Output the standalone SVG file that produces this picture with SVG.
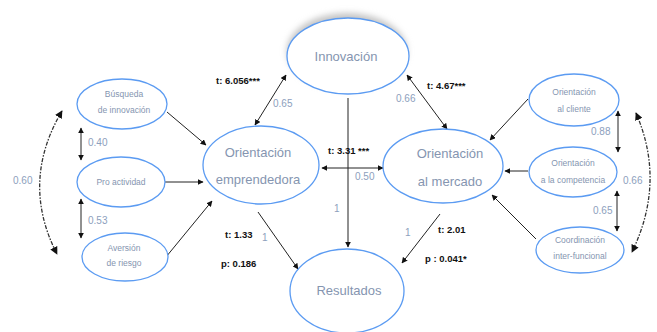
<svg xmlns="http://www.w3.org/2000/svg" width="657" height="332" viewBox="0 0 657 332">
<defs>
<marker id="ah" viewBox="0 0 10 10" refX="9" refY="5" markerWidth="6" markerHeight="6" orient="auto-start-reverse"><path d="M0,0 L10,5 L0,10 z" fill="#111"/></marker>
<filter id="sh" x="-20%" y="-30%" width="140%" height="160%"><feGaussianBlur stdDeviation="3"/></filter>
</defs>
<style>
.n{fill:#fff;stroke:#5b9bf2;stroke-width:1.3}
.big{font-family:"Liberation Sans",Arial,sans-serif;font-size:13px;fill:#8595b0;text-anchor:middle}
.sm{font-family:"Liberation Sans",Arial,sans-serif;font-size:8.5px;fill:#8595b0;text-anchor:middle}
.num{font-family:"Liberation Sans",Arial,sans-serif;font-size:10px;fill:#8da0bd}
.t{font-family:"Liberation Sans",Arial,sans-serif;font-size:9.5px;font-weight:bold;fill:#111}
.c{stroke:#222;stroke-width:1;fill:none}
.cd{stroke:#333;stroke-width:1.3;fill:none;stroke-dasharray:4 1.5 1.5 1.5}
</style>
<rect width="657" height="332" fill="#fff"/>
<g id="connectors">
<line class="c" x1="167" y1="112" x2="206" y2="145" marker-end="url(#ah)"/>
<line class="c" x1="165" y1="182" x2="203" y2="182" marker-end="url(#ah)"/>
<line class="c" x1="166" y1="257" x2="212" y2="201" marker-end="url(#ah)"/>
<line class="c" x1="528" y1="99" x2="490" y2="140" marker-end="url(#ah)"/>
<line class="c" x1="528" y1="171" x2="505" y2="171" marker-end="url(#ah)"/>
<line class="c" x1="536" y1="239" x2="492" y2="195" marker-end="url(#ah)"/>
<line class="c" x1="255" y1="125" x2="286" y2="75" marker-start="url(#ah)" marker-end="url(#ah)"/>
<line class="c" x1="407" y1="75" x2="447" y2="129" marker-start="url(#ah)" marker-end="url(#ah)"/>
<line class="c" x1="348" y1="98" x2="348" y2="247" marker-end="url(#ah)"/>
<line class="c" x1="322" y1="168" x2="383" y2="168" marker-start="url(#ah)" marker-end="url(#ah)"/>
<line class="c" x1="258" y1="212" x2="298" y2="269" marker-end="url(#ah)"/>
<line class="c" x1="440" y1="214" x2="402" y2="263" marker-end="url(#ah)"/>
<line class="c" x1="81" y1="128" x2="81" y2="160" marker-start="url(#ah)" marker-end="url(#ah)"/>
<line class="c" x1="81" y1="199" x2="81" y2="238" marker-start="url(#ah)" marker-end="url(#ah)"/>
<line class="c" x1="618" y1="111" x2="618" y2="152" marker-start="url(#ah)" marker-end="url(#ah)"/>
<line class="c" x1="617" y1="191" x2="617" y2="231" marker-start="url(#ah)" marker-end="url(#ah)"/>
<path class="cd" d="M62,111 Q20,182 57,254" marker-start="url(#ah)" marker-end="url(#ah)"/>
<path class="cd" d="M636,113 Q666,182 632,252" marker-start="url(#ah)" marker-end="url(#ah)"/>
<text class="t" x="216" y="84">t: 6.056***</text>
<text class="num" x="273" y="107">0.65</text>
<text class="num" x="396" y="102">0.66</text>
<text class="t" x="427" y="89">t: 4.67***</text>
<text class="t" x="328" y="154">t: 3.31 ***</text>
<text class="num" x="355" y="180">0.50</text>
<text class="num" x="334" y="212">1</text>
<text class="t" x="225" y="238">t: 1.33</text>
<text class="num" x="262" y="241">1</text>
<text class="t" x="221" y="267">p: 0.186</text>
<text class="num" x="405" y="236">1</text>
<text class="t" x="438" y="233">t: 2.01</text>
<text class="t" x="425" y="262">p : 0.041*</text>
<text class="num" x="88" y="146">0.40</text>
<text class="num" x="88" y="224">0.53</text>
<text class="num" x="13" y="184">0.60</text>
<text class="num" x="591" y="135">0.88</text>
<text class="num" x="593" y="214">0.65</text>
<text class="num" x="623" y="184">0.66</text>
</g>
<g id="innovacion">
<ellipse cx="347" cy="51" rx="60" ry="38" fill="#c4c4c4" filter="url(#sh)"/>
<ellipse class="n" cx="348" cy="56" rx="61" ry="38"/>
<text class="big" x="346" y="61">Innovación</text>
</g>
<g id="orientacion-emprendedora">
<ellipse class="n" cx="261" cy="165" rx="58" ry="39"/>
<text class="big" x="258" y="157">Orientación</text>
<text class="big" x="258" y="184">emprendedora</text>
</g>
<g id="orientacion-mercado">
<ellipse class="n" cx="443" cy="166" rx="60" ry="37"/>
<text class="big" x="450" y="158">Orientación</text>
<text class="big" x="450" y="186">al mercado</text>
</g>
<g id="resultados">
<ellipse class="n" cx="347" cy="291" rx="57" ry="42"/>
<text class="big" x="349" y="295">Resultados</text>
</g>
<g id="busqueda">
<ellipse class="n" cx="122" cy="104" rx="45" ry="25"/>
<text class="sm" x="124" y="97">Búsqueda</text>
<text class="sm" x="124" y="113">de innovación</text>
</g>
<g id="proactividad">
<ellipse class="n" cx="121" cy="182" rx="44" ry="25"/>
<text class="sm" x="121" y="185">Pro actividad</text>
</g>
<g id="aversion">
<ellipse class="n" cx="125" cy="257" rx="43" ry="24"/>
<text class="sm" x="124" y="251">Aversión</text>
<text class="sm" x="124" y="266">de riesgo</text>
</g>
<g id="cliente">
<ellipse class="n" cx="574" cy="100" rx="45" ry="26"/>
<text class="sm" x="574" y="95">Orientación</text>
<text class="sm" x="574" y="112">al cliente</text>
</g>
<g id="competencia">
<ellipse class="n" cx="573" cy="172" rx="44" ry="25"/>
<text class="sm" x="573" y="166">Orientación</text>
<text class="sm" x="573" y="183">a la competencia</text>
</g>
<g id="coordinacion">
<ellipse class="n" cx="580" cy="250" rx="44" ry="23"/>
<text class="sm" x="580" y="243">Coordinación</text>
<text class="sm" x="580" y="259">inter-funcional</text>
</g>
</svg>
